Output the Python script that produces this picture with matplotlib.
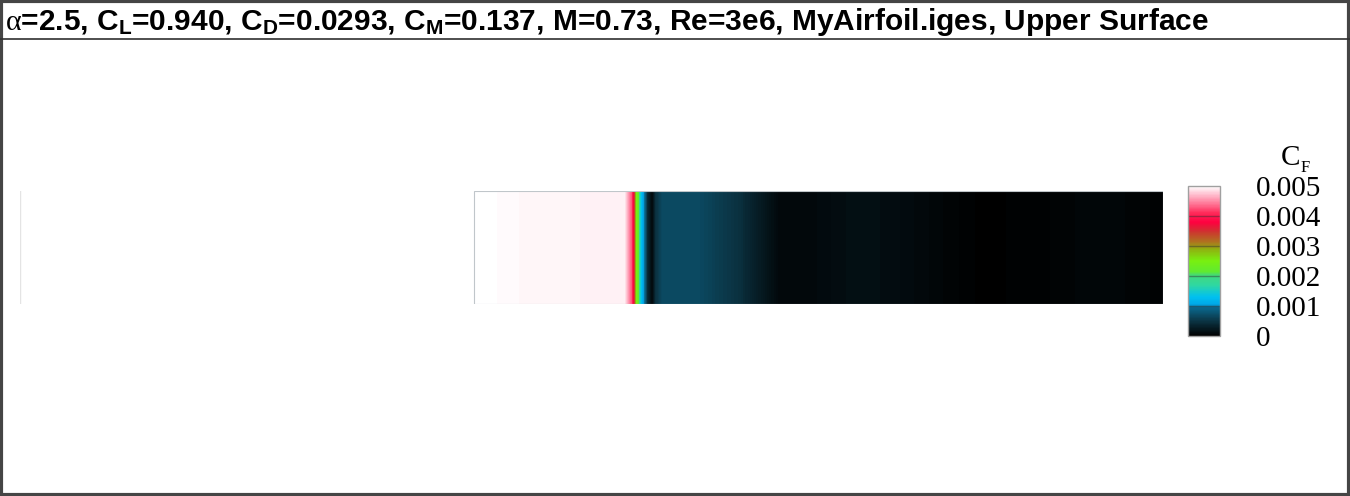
import matplotlib
matplotlib.use("Agg")
import matplotlib.pyplot as plt
import numpy as np
from matplotlib.colors import LinearSegmentedColormap, Normalize
from matplotlib.cm import ScalarMappable
from matplotlib.patches import Rectangle
from matplotlib.lines import Line2D

# surface station (fraction of plotted span) and skin friction, upper surface
LE_S = [0.0, 0.397]
LE_CF = [0.0062, 0.0051]

SURF_S = [0.397, 0.437, 0.490, 0.529, 0.532, 0.535, 0.536, 0.538, 0.539,
          0.541, 0.542, 0.544, 0.547, 0.549, 0.553, 0.556, 0.562, 0.595,
          0.630, 0.665, 0.697, 0.735, 0.770, 0.814, 0.843, 0.901, 0.945,
          0.989, 1.0]
SURF_CF = [0.00500, 0.00496, 0.00494, 0.00492, 0.00460, 0.00428, 0.00400,
           0.00330, 0.00255, 0.00220, 0.00170, 0.00120, 0.00090, 0.00040,
           0.00008, 0.00045, 0.00068, 0.00066, 0.00045, 0.00008, 0.00010,
           0.00016, 0.00012, 0.00005, 0.00001, 0.00004, 0.00008, 0.00004,
           0.00002]

CB_TICKS = [0, 0.001, 0.002, 0.003, 0.004, 0.005]
CB_LABELS = ["0", "0.001", "0.002", "0.003", "0.004", "0.005"]

TITLE = (r"$\alpha$=2.5, C$_\mathbf{L}$=0.940, C$_\mathbf{D}$=0.0293, "
         r"C$_\mathbf{M}$=0.137, M=0.73, Re=3e6, MyAirfoil.iges, Upper Surface")

plt.rcParams["mathtext.fontset"] = "custom"
plt.rcParams["mathtext.rm"] = "Liberation Sans:bold"
plt.rcParams["mathtext.bf"] = "Liberation Sans:bold"
plt.rcParams["mathtext.it"] = "Liberation Serif"

cmap = LinearSegmentedColormap.from_list("modern", [
    (0.00, "#000000"), (0.10, "#0b3545"), (0.19, "#0a6a90"),
    (0.21, "#00a8e8"), (0.26, "#00c0f0"), (0.34, "#30d8a0"),
    (0.40, "#40d880"), (0.43, "#60ea30"), (0.50, "#78f010"),
    (0.58, "#90b010"), (0.63, "#b07020"), (0.70, "#d03030"),
    (0.76, "#ff0040"), (0.82, "#ff2858"), (0.90, "#ff8aa6"),
    (0.96, "#ffd0dc"), (1.00, "#ffffff")])
cmap.set_over("white")
cmap.set_under("black")
norm = Normalize(0, 0.005)
levels = np.linspace(0, 0.005, 251)

fig = plt.figure(figsize=(13.5, 4.96), dpi=100)
fig.patch.set_facecolor("white")

ax = fig.add_axes([20 / 1350, 1 - 304 / 496, 1143 / 1350, 113 / 496])
for s, cf in [(LE_S, LE_CF), (SURF_S, SURF_CF)]:
    X, Y = np.meshgrid(s, [0, 1])
    Z = np.tile(cf, (2, 1))
    ax.contourf(X, Y, Z, levels=levels, cmap=cmap, norm=norm,
                extend="both", antialiased=False)
# zone edges
ax.axvline(LE_S[0], color="#e4e4e4", linewidth=1)
ax.add_patch(Rectangle((SURF_S[0], 0), SURF_S[-1] - SURF_S[0], 1,
                       fill=False, edgecolor="#c0c6ca", linewidth=0.8))
ax.set_xlim(0, 1)
ax.set_ylim(0, 1)
ax.axis("off")

# colour legend
cax = fig.add_axes([1188 / 1350, 1 - 336 / 496, 32 / 1350, 150 / 496])
cb = fig.colorbar(ScalarMappable(norm=norm, cmap=cmap), cax=cax,
                  ticks=CB_TICKS)
cb.ax.set_yticklabels(CB_LABELS, family="Liberation Serif", fontsize=21)
cb.ax.tick_params(length=0, pad=26)
cb.outline.set_edgecolor("#a0a0a0")
cb.outline.set_linewidth(1)
for t in CB_TICKS[1:-1]:
    cb.ax.axhline(t, color="#303030", alpha=0.45, linewidth=1)
cb.ax.text(3.5, 1.1, "C", transform=cb.ax.transAxes,
           family="Liberation Serif", fontsize=21, ha="right", va="bottom")
cb.ax.text(3.53, 1.07, "F", transform=cb.ax.transAxes,
           family="Liberation Serif", fontsize=12, ha="left", va="bottom")

# title bar and frame
fig.text(5 / 1350, 1 - 30 / 496, TITLE, family="Liberation Sans",
         fontweight="bold", fontsize=21.5, va="baseline", ha="left")
fig.add_artist(Line2D([0, 1], [1 - 38.5 / 496] * 2, color="#303030",
                      linewidth=1.2, transform=fig.transFigure))
fig.add_artist(Rectangle((0.001, 0.002), 0.998, 0.996, fill=False,
                         edgecolor="#454545", linewidth=3,
                         transform=fig.transFigure))

fig.savefig("out.png", dpi=100, facecolor="white")
